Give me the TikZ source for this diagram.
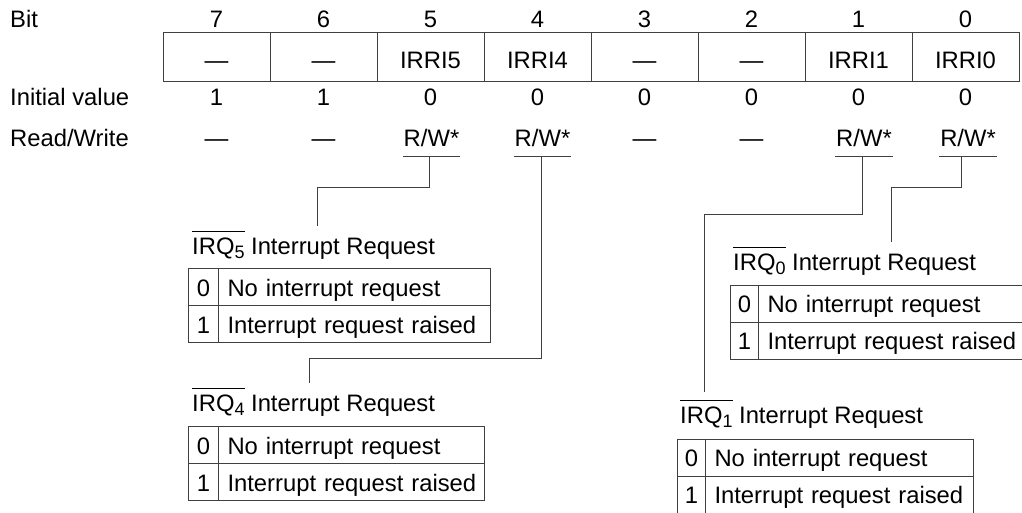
\documentclass[tikz,border=0pt]{standalone}
\usepackage{fontspec}
\setmainfont{Liberation Sans}
\newsavebox\ovlbox
\newcommand\myovl[1]{\sbox\ovlbox{#1}\rlap{\rule[22.5pt]{\wd\ovlbox}{0.9pt}}\usebox\ovlbox}
\newcommand\mysub[1]{\raisebox{-4pt}{\fontsize{18}{20}\selectfont #1}}
\tikzset{
  txt/.style={font=\fontsize{23.8}{28}\selectfont, inner sep=0pt},
  ln/.style={line width=1pt, draw=black!75},
  regcell/.style={txt, draw, line width=1pt, draw=black!75, minimum width=107pt, minimum height=49pt, text height=23pt, text depth=0pt},
  rwnode/.style={txt, anchor=base, text depth=0pt, inner xsep=1pt, inner ysep=9pt},
  kcell/.style={txt, draw, line width=1pt, draw=black!75, anchor=north west, minimum height=37pt, text height=18pt, text depth=0pt},
  dcell/.style={txt, draw, line width=1pt, draw=black!75, anchor=north west, minimum height=37pt, text height=18pt, text depth=0pt, inner xsep=9pt, align=left}
}
\begin{document}
\begin{tikzpicture}[x=1pt,y=-1pt]
\useasboundingbox (0,0) rectangle (1022,513);
% row labels
\node[txt,anchor=base west] (lbit) at (10,28) {Bit};
\node[txt,anchor=base west] (linit) at (10,106) {Initial value};
\node[txt,anchor=base west] (lrw) at (10,147) {Read/Write};
% register
\foreach \b/\t/\iv in {7/\textemdash/1,6/\textemdash/1,5/IRRI5/0,4/IRRI4/0,3/\textemdash/0,2/\textemdash/0,1/IRRI1/0,0/IRRI0/0}{
  \pgfmathsetmacro\cx{216.5+107*(7-\b)}
  \node[txt,anchor=base] (bit\b) at (\cx,28) {\b};
  \node[regcell] (reg\b) at (\cx,57.5) {\t};
  \node[txt,anchor=base] (init\b) at (\cx,106) {\iv};
}
\foreach \b in {7,6,3,2}{
  \pgfmathsetmacro\cx{216.5+107*(7-\b)}
  \node[txt,anchor=base] (rw\b) at (\cx,147) {\textemdash};
}
\node[rwnode] (rw5) at (431.5,147) {R/W*};
\node[rwnode] (rw4) at (542.5,147) {R/W*};
\node[rwnode] (rw1) at (864,147) {R/W*};
\node[rwnode] (rw0) at (968,147) {R/W*};
\foreach \b in {5,4,1,0}{
  \draw[ln] (rw\b.south west) -- (rw\b.south east);
}
% titles
\node[txt,anchor=base west] (t5) at (192,254) {\myovl{IRQ\mysub{5}} Interrupt Request};
\node[txt,anchor=base west] (t4) at (192,411) {\myovl{IRQ\mysub{4}} Interrupt Request};
\node[txt,anchor=base west] (t0) at (733,270) {\myovl{IRQ\mysub{0}} Interrupt Request};
\node[txt,anchor=base west] (t1) at (680,423) {\myovl{IRQ\mysub{1}} Interrupt Request};
% connector ends
\coordinate (e5) at (317,226);
\coordinate (e4) at (309,383);
\coordinate (e1) at (704,392);
\coordinate (e0) at (891,242);
\draw[ln] ([xshift=-2.5pt]rw5.south) -- ++(0,31) -| (e5);
\draw[ln] ([xshift=-1.5pt]rw4.south) -- ++(0,202) -| (e4);
\draw[ln] ([xshift=-1.5pt]rw1.south) -- ++(0,58) -| (e1);
\draw[ln] ([xshift=-6.5pt]rw0.south) -- ++(0,31) -| (e0);
% IRQ5 table
\node[kcell, minimum width=30pt] (a5k0) at (188,268) {0};
\node[dcell, text width=254pt] (a5d0) at (218,268) {\mbox{No interrupt request}};
\node[kcell, minimum width=30pt] (a5k1) at (188,305) {1};
\node[dcell, text width=254pt] (a5d1) at (218,305) {\mbox{Interrupt request raised}};
% IRQ4 table
\node[kcell, minimum width=30pt] (a4k0) at (188,426) {0};
\node[dcell, text width=248pt] (a4d0) at (218,426) {\mbox{No interrupt request}};
\node[kcell, minimum width=30pt] (a4k1) at (188,463) {1};
\node[dcell, text width=248pt] (a4d1) at (218,463) {\mbox{Interrupt request raised}};
% IRQ0 table
\node[kcell, minimum width=28pt] (a0k0) at (730,284.5) {0};
\node[dcell, text width=245.5pt] (a0d0) at (758,284.5) {\mbox{No interrupt request}};
\node[kcell, minimum width=28pt] (a0k1) at (730,321.5) {1};
\node[dcell, text width=245.5pt] (a0d1) at (758,321.5) {\mbox{Interrupt request raised}};
% IRQ1 table
\node[kcell, minimum width=28pt] (a1k0) at (677,438.5) {0};
\node[dcell, text width=250pt] (a1d0) at (705,438.5) {\mbox{No interrupt request}};
\node[kcell, minimum width=28pt] (a1k1) at (677,475.5) {1};
\node[dcell, text width=250pt] (a1d1) at (705,475.5) {\mbox{Interrupt request raised}};
\end{tikzpicture}
\end{document}
